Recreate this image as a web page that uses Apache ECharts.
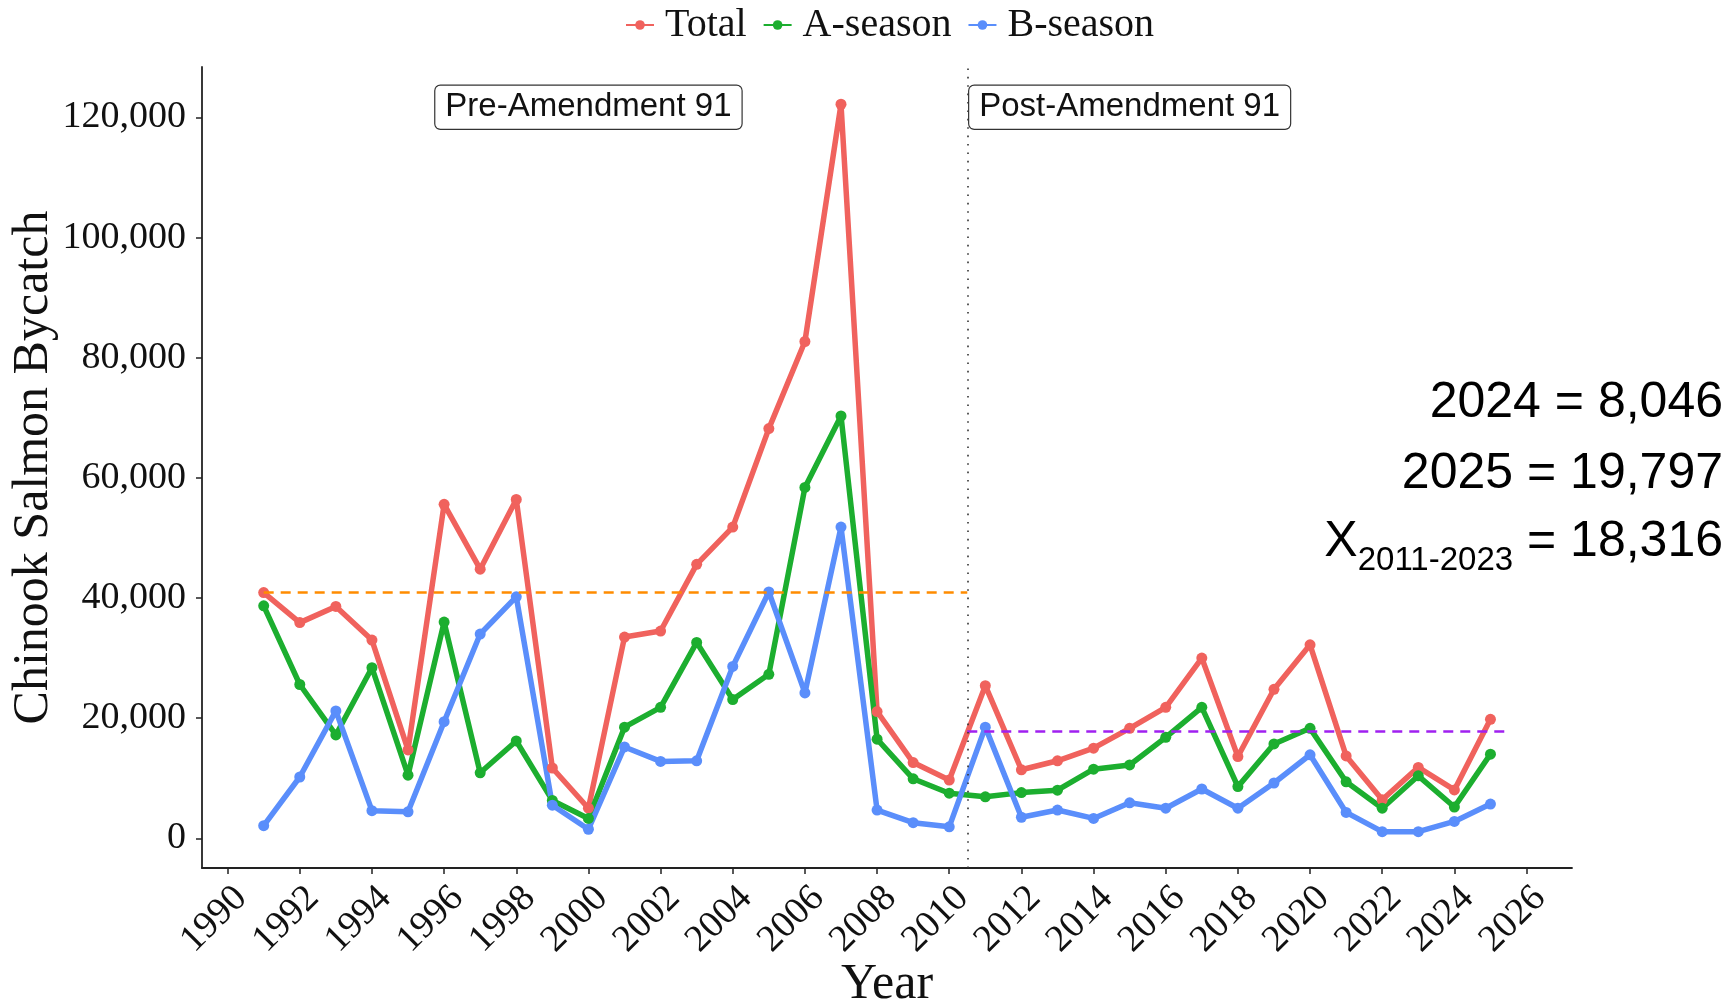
<!DOCTYPE html>
<html>
<head>
<meta charset="utf-8">
<script src="https://cdn.jsdelivr.net/npm/echarts@6/dist/echarts.min.js"></script>
<style>
html,body{margin:0;padding:0;background:#fff;}
#chart{width:1729px;height:1002px;}
</style>
</head>
<body>
<div id="chart"></div>
<script>
const years = [1991,1992,1993,1994,1995,1996,1997,1998,1999,2000,2001,2002,2003,2004,2005,2006,2007,2008,2009,2010,2011,2012,2013,2014,2015,2016,2017,2018,2019,2020,2021,2022,2023,2024,2025];
const total = [40900,35900,38600,33000,14700,55600,44800,56400,11700,5000,33500,34500,45600,51800,68200,82700,122200,21100,12600,9700,25400,11400,12900,15000,18300,21800,30000,13600,24800,32200,13700,6400,11800,8046,19797];
const aSeason = [38700,25600,17200,28400,10500,36000,10900,16200,6300,3300,18500,21800,32600,23100,27300,58400,70300,16500,9900,7500,6900,7600,8000,11500,12200,16800,21800,8600,15700,18300,9400,5000,10400,5200,14000];
const bSeason = [2100,10200,21200,4600,4400,19400,34000,40200,5500,1500,15200,12800,12900,28600,41000,24200,51800,4700,2600,1900,18500,3500,4700,3300,5900,5000,8200,5000,9200,13900,4300,1100,1100,2800,5700];
const xTicks = [1990,1992,1994,1996,1998,2000,2002,2004,2006,2008,2010,2012,2014,2016,2018,2020,2022,2024,2026];
const yTicks = [0,20000,40000,60000,80000,100000,120000];
const preMean = 40920;
const postMean = 17750;
const amendYear = 2010.5;
const preLabel = {text:'Pre-Amendment 91', year:2000, value:121700};
const postLabel = {text:'Post-Amendment 91', year:2015, value:121700};
const noteLines = ['2024 = 8,046','2025 = 19,797'];
const meanNote = {sym:'X', sub:'2011-2023', val:' = 18,316'};

const colors = {total:'#F0625D', a:'#1CAE2F', b:'#5A8EFB'};
const serif = 'Liberation Serif';
const sans = 'Liberation Sans';

function pairs(vals){ return years.map((y,i)=>[y,vals[i]]); }
function fmt(v){ return Math.round(v).toLocaleString('en-US'); }

const boxLabel = {
  show:true, position:'inside', formatter:p=>p.name,
  fontFamily:sans, fontSize:33, color:'#111',
  backgroundColor:'#fff', borderColor:'#333', borderWidth:1.2, borderRadius:5,
  padding:[5,10,5,10]
};

function lineSeries(name, vals, color, extra){
  return Object.assign({
    name, type:'line', data:pairs(vals),
    symbol:'circle', symbolSize:11, showSymbol:true,
    lineStyle:{width:5.5, color}, itemStyle:{color},
    emphasis:{disabled:true}, animation:false, z:2
  }, extra||{});
}

const chart = echarts.init(document.getElementById('chart'), null, {renderer:'canvas'});
chart.setOption({
  animation:false,
  backgroundColor:'#fff',
  legend:{
    data:['Total','A-season','B-season'],
    left:620, top:0,
    itemWidth:28, itemHeight:12, itemGap:16,
    textStyle:{fontFamily:serif, fontSize:40, color:'#111', padding:[0,0,0,6]}
  },
  grid:{left:202, right:157, top:67, bottom:134, containLabel:false, outerBoundsMode:'none'},
  xAxis:{
    type:'value', min:1989.29, max:2027.26,
    axisLine:{show:true, onZero:false, lineStyle:{color:'#222', width:1.8}},
    axisTick:{show:true, customValues:xTicks, length:6, lineStyle:{color:'#222', width:1.5}},
    axisLabel:{customValues:xTicks, rotate:45, margin:11, verticalAlign:'top', fontFamily:serif, fontSize:38, color:'#111', formatter:v=>String(v)},
    splitLine:{show:false},
    name:'Year', nameLocation:'middle', nameGap:92, nameMoveOverlap:false,
    nameTextStyle:{fontFamily:serif, fontSize:50, color:'#111'}
  },
  yAxis:{
    type:'value', min:-4950, max:128400,
    axisLine:{show:true, onZero:false, lineStyle:{color:'#222', width:1.8}},
    axisTick:{show:true, customValues:yTicks, length:6, lineStyle:{color:'#222', width:1.5}},
    axisLabel:{customValues:yTicks, margin:16, fontFamily:serif, fontSize:38, color:'#111', formatter:v=>fmt(v)},
    splitLine:{show:false},
    name:'Chinook Salmon Bycatch', nameLocation:'middle', nameRotate:90, nameGap:143, nameMoveOverlap:false,
    nameTextStyle:{fontFamily:serif, fontSize:50, color:'#111'}
  },
  series:[
    lineSeries('Total', total, colors.total, {
      markLine:{
        silent:true, symbol:['none','none'], animation:false, label:{show:false},
        data:[
          [{coord:[years[0], preMean], lineStyle:{color:'#FF8C00', width:2.5, type:[10,7]}},
           {coord:[amendYear, preMean]}],
          [{coord:[amendYear, postMean], lineStyle:{color:'#A020F0', width:2.5, type:[10,7]}},
           {coord:[2025.5, postMean]}],
          {xAxis:amendYear, lineStyle:{color:'#333', width:1.6, type:[1.6,6.8]}}
        ]
      },
      markPoint:{
        silent:true, animation:false, symbol:'rect', symbolSize:1,
        itemStyle:{color:'rgba(0,0,0,0)'},
        label:boxLabel,
        data:[
          {name:preLabel.text, coord:[preLabel.year, preLabel.value]},
          {name:postLabel.text, coord:[postLabel.year, postLabel.value]}
        ]
      }
    }),
    lineSeries('A-season', aSeason, colors.a),
    lineSeries('B-season', bSeason, colors.b)
  ],
  graphic:[
    {type:'text', x:1723, y:403, style:{text:noteLines[0], fontFamily:sans, fontSize:50, fill:'#000', textAlign:'right', textVerticalAlign:'middle'}},
    {type:'text', x:1723, y:474, style:{text:noteLines[1], fontFamily:sans, fontSize:50, fill:'#000', textAlign:'right', textVerticalAlign:'middle'}},
    {type:'text', x:1723, y:567, style:{
      text:'{m|' + meanNote.sym + '}{s|' + meanNote.sub + '}{m|' + meanNote.val + '}',
      textAlign:'right', textVerticalAlign:'bottom',
      rich:{
        m:{fontFamily:sans, fontSize:50, fill:'#000', color:'#000', lineHeight:50, verticalAlign:'bottom'},
        s:{fontFamily:sans, fontSize:33, fill:'#000', color:'#000', lineHeight:33, verticalAlign:'bottom', padding:[0,0,-10,0]}
      }
    }}
  ]
});
</script>
</body>
</html>
